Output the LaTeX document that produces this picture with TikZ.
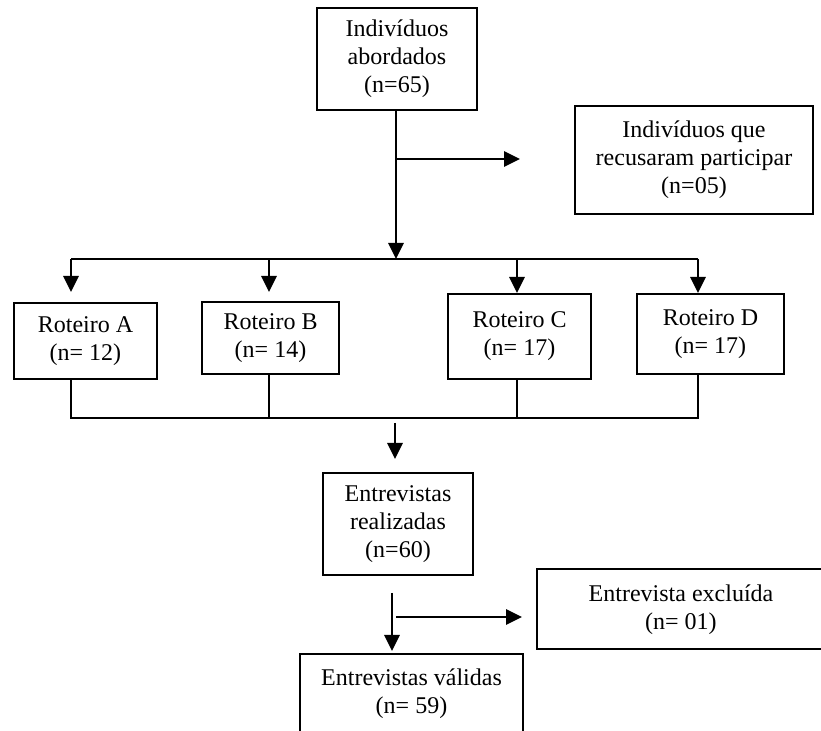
\documentclass[tikz,border=0pt]{standalone}
\usepackage{fontspec}
\setmainfont{Liberation Serif}
\usepackage{tikz}
\usetikzlibrary{arrows.meta, positioning}
\tikzset{
    block/.style = {
        rectangle,
        draw,
        line width=1pt,
        align=center,
        inner sep=0pt,
        font=\fontsize{12}{14}\selectfont
    },
    line/.style = {
        draw,
        line width=1pt
    },
    arrow/.style = {
        draw,
        line width=1.4pt,
        -{Triangle[length=8pt,width=7.5pt]}
    }
}

\begin{document}
\begin{tikzpicture}[x=0.5pt, y=-0.5pt]
\useasboundingbox (0,0) rectangle (821,731);

% Main node
\node [block, minimum width=80pt, minimum height=51pt] (abord) at (397,59) {Indivíduos\\abordados\\(n=65)};
\node [block, minimum width=119pt, minimum height=54pt] (recus) at (694,160) {Indivíduos que\\recusaram participar\\(n=05)};

% Roteiros
\node [block, minimum width=71.5pt, minimum height=38pt] (rotA) at (85.5,341) {Roteiro A\\(n= 12)};
\node [block, minimum width=68.5pt, minimum height=36pt] (rotB) at (270.5,338) {Roteiro B\\(n= 14)};
\node [block, minimum width=71.5pt, minimum height=42.5pt] (rotC) at (519.5,336.5) {Roteiro C\\(n= 17)};
\node [block, minimum width=73.5pt, minimum height=40pt] (rotD) at (710.5,334) {Roteiro D\\(n= 17)};

% Entrevistas
\node [block, minimum width=75pt, minimum height=51pt] (realiz) at (398,524) {Entrevistas\\realizadas\\(n=60)};
\node [block, minimum width=144pt, minimum height=40pt] (excl) at (681,609.5) {Entrevista excluída\\(n= 01)};
\node [block, minimum width=111.5pt, minimum height=40pt] (valid) at (411.5,694) {Entrevistas válidas\\(n= 59)};

% Junctions
\coordinate (jA) at (71,259);
\coordinate (jB) at (269,259);
\coordinate (jC) at (517,259);
\coordinate (jD) at (698,259);
\coordinate (jM) at (396,259);
\coordinate (b1) at (396,159);
\coordinate (kA) at (71,418);
\coordinate (kB) at (269,418);
\coordinate (kC) at (517,418);
\coordinate (kD) at (698,418);
\coordinate (m1) at (395,423);
\coordinate (m2) at (392,593);
\coordinate (b2) at (396,617);

% Top branch
\draw [arrow] (abord.south -| jM) -- (jM);
\draw [arrow, shorten >=27pt] (b1) -- (recus.west |- b1);

% Split to roteiros
\draw [line] (jA) -- (jD);
\draw [arrow, shorten >=5pt] (jA) -- (jA |- rotA.north);
\draw [arrow, shorten >=4.5pt] (jB) -- (jB |- rotB.north);
\draw [arrow] (jC) -- (jC |- rotC.north);
\draw [arrow] (jD) -- (jD |- rotD.north);

% Join
\draw [line] (kA |- rotA.south) -- (kA) -- (kD) -- (kD |- rotD.south);
\draw [line] (kB |- rotB.south) -- (kB);
\draw [line] (kC |- rotC.south) -- (kC);
\draw [arrow, shorten >=6.5pt] (m1) -- (m1 |- realiz.north);

% Bottom branch
\draw [arrow, shorten >=1pt] (m2) -- (m2 |- valid.north);
\draw [arrow, shorten >=7pt] (b2) -- (excl.west |- b2);

\end{tikzpicture}
\end{document}
